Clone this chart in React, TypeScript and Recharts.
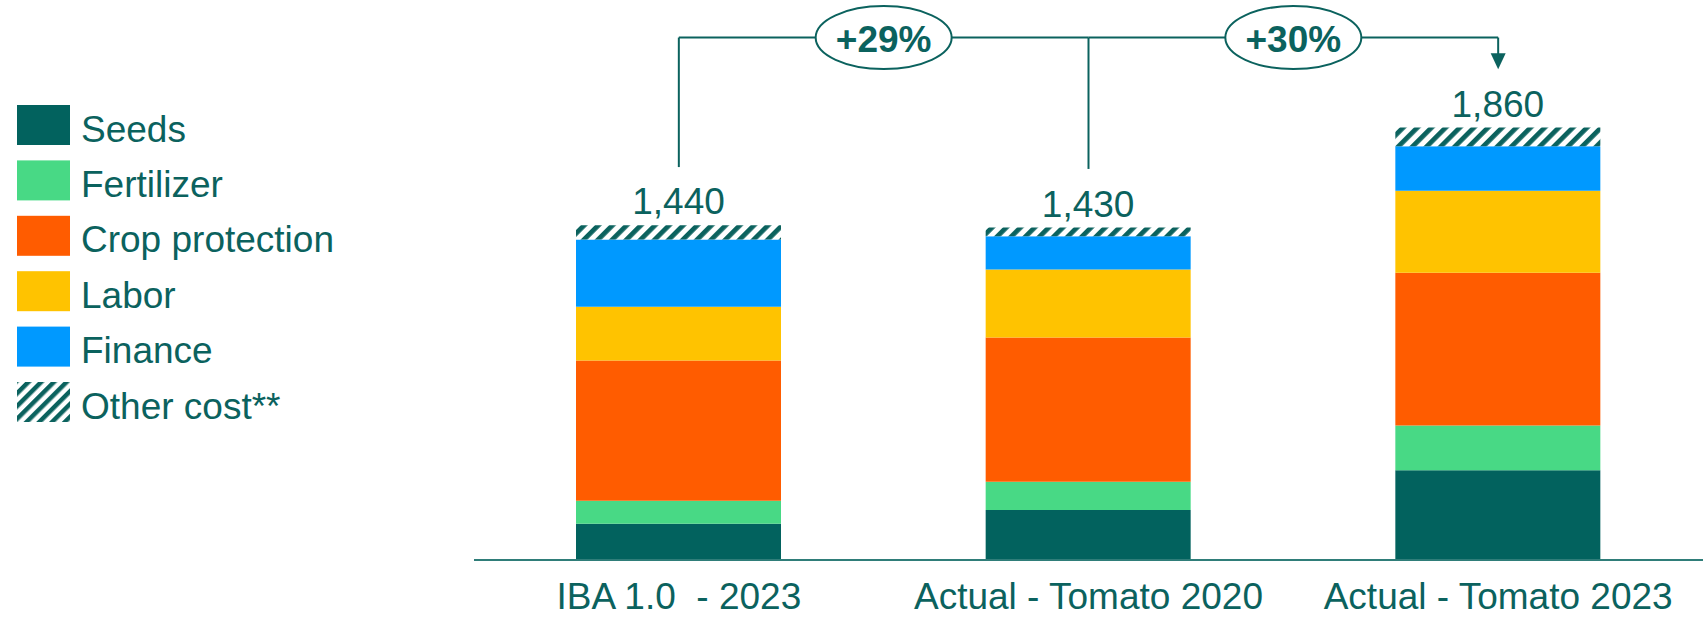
import { Bar, BarChart, LabelList, Legend, ReferenceLine, XAxis, YAxis } from "recharts";

const FONT = '"Liberation Sans", Arial, sans-serif';
const TEAL = "#0b625e";

const categories = ["IBA 1.0  - 2023", "Actual - Tomato 2020", "Actual - Tomato 2023"];
const seeds = [156, 215, 386];
const fertilizer = [99, 122, 193];
const cropProtection = [603, 620, 657];
const labor = [231, 293, 352];
const finance = [289, 142, 192];
const otherCost = [62, 38, 80];
const totals = [1440, 1430, 1860];

const growthLabels = ["+29%", "+30%"];
const bracketLevel = 2247;
const connectorEnds = [1690, 1682];
const arrowTip = 2111;

const series = [
  { key: "Seeds", color: "#02625e" },
  { key: "Fertilizer", color: "#48d985" },
  { key: "Crop protection", color: "#ff5c00" },
  { key: "Labor", color: "#ffc300" },
  { key: "Finance", color: "#0099ff" },
  { key: "Other cost**", color: "url(#hatch)" },
];

const data = categories.map((name, i) => ({
  name,
  Seeds: seeds[i],
  Fertilizer: fertilizer[i],
  "Crop protection": cropProtection[i],
  Labor: labor[i],
  Finance: finance[i],
  "Other cost**": otherCost[i],
  total: totals[i],
}));

function LegendBox() {
  return (
    <svg width={360} height={440}>
      <defs>
        <pattern id="hatchLegend" width={9} height={9} patternUnits="userSpaceOnUse" patternTransform="rotate(45)">
          <rect width={9} height={9} fill="#fff" />
          <rect width={4.5} height={9} fill={TEAL} />
        </pattern>
      </defs>
      {series.map((s, i) => {
        const top = 105 + i * 55.4;
        return (
          <g key={s.key}>
            <rect x={17} y={top} width={53} height={40} fill={s.color.startsWith("url") ? "url(#hatchLegend)" : s.color} />
            <text x={81} y={top + 36.5} fill={TEAL} fontSize={37} fontFamily={FONT}>
              {s.key}
            </text>
          </g>
        );
      })}
    </svg>
  );
}

function CategoryTick({ x, y, payload }: any) {
  return (
    <text
      x={x}
      y={y + 49}
      textAnchor="middle"
      fill={TEAL}
      fontSize={37}
      fontFamily={FONT}
      style={{ whiteSpace: "pre" }}
      xmlSpace="preserve"
    >
      {payload.value}
    </text>
  );
}

function GrowthBubble(text: string) {
  return (props: any) => {
    const vb = props.viewBox;
    const cx = vb.x + vb.width / 2;
    const cy = vb.y + vb.height / 2;
    return (
      <g>
        <ellipse cx={cx} cy={cy} rx={68} ry={31.5} fill="#fff" stroke={TEAL} strokeWidth={2} />
        <text x={cx} y={cy + 14} textAnchor="middle" fill={TEAL} fontSize={37} fontWeight="bold" fontFamily={FONT}>
          {text}
        </text>
      </g>
    );
  };
}

function ArrowLine(props: any) {
  const { x1, y1, x2, y2 } = props;
  return (
    <g>
      <line x1={x1} y1={y1} x2={x2} y2={y2 - 14} stroke={TEAL} strokeWidth={2} />
      <polygon points={`${x2 - 7.5},${y2 - 16} ${x2 + 7.5},${y2 - 16} ${x2},${y2}`} fill={TEAL} />
    </g>
  );
}

export default function App() {
  return (
    <div style={{ position: "absolute", left: 0, top: 0 }}>
      <BarChart
        width={1703}
        height={621}
        data={data}
        margin={{ top: 2, right: 0, left: 474, bottom: 0 }}
        barSize={205}
      >
        <defs>
          <pattern id="hatch" width={10} height={10} patternUnits="userSpaceOnUse" patternTransform="rotate(45)">
            <rect width={10} height={10} fill="#fff" />
            <rect width={4.8} height={10} fill={TEAL} />
          </pattern>
        </defs>
        <XAxis
          dataKey="name"
          height={61}
          axisLine={{ stroke: "#2f7d79", strokeWidth: 2 }}
          tickLine={false}
          tickSize={0}
          tickMargin={0}
          interval={0}
          tick={<CategoryTick />}
        />
        <YAxis hide domain={[0, 2400]} allowDataOverflow />
        <Legend
          layout="vertical"
          align="center"
          verticalAlign="middle"
          wrapperStyle={{ left: 0, top: 0, width: 360, height: 440 }}
          content={() => <LegendBox />}
        />
        {series.map((s, i) => (
          <Bar key={s.key} dataKey={s.key} stackId="cost" fill={s.color} isAnimationActive={false}>
            {i === series.length - 1 && (
              <LabelList
                dataKey="total"
                position="top"
                offset={11}
                fill={TEAL}
                fontSize={37}
                fontFamily={FONT}
                formatter={(v: any) => Number(v).toLocaleString("en-US")}
              />
            )}
          </Bar>
        ))}
        <ReferenceLine
          segment={[
            { x: categories[0], y: connectorEnds[0] },
            { x: categories[0], y: bracketLevel },
          ]}
          stroke={TEAL}
          strokeWidth={2}
          ifOverflow="visible"
        />
        <ReferenceLine
          segment={[
            { x: categories[1], y: connectorEnds[1] },
            { x: categories[1], y: bracketLevel },
          ]}
          stroke={TEAL}
          strokeWidth={2}
          ifOverflow="visible"
        />
        <ReferenceLine
          segment={[
            { x: categories[2], y: bracketLevel },
            { x: categories[2], y: arrowTip },
          ]}
          ifOverflow="visible"
          shape={<ArrowLine />}
        />
        <ReferenceLine
          segment={[
            { x: categories[0], y: bracketLevel },
            { x: categories[1], y: bracketLevel },
          ]}
          stroke={TEAL}
          strokeWidth={2}
          ifOverflow="visible"
          label={{ content: GrowthBubble(growthLabels[0]) }}
        />
        <ReferenceLine
          segment={[
            { x: categories[1], y: bracketLevel },
            { x: categories[2], y: bracketLevel },
          ]}
          stroke={TEAL}
          strokeWidth={2}
          ifOverflow="visible"
          label={{ content: GrowthBubble(growthLabels[1]) }}
        />
      </BarChart>
    </div>
  );
}
